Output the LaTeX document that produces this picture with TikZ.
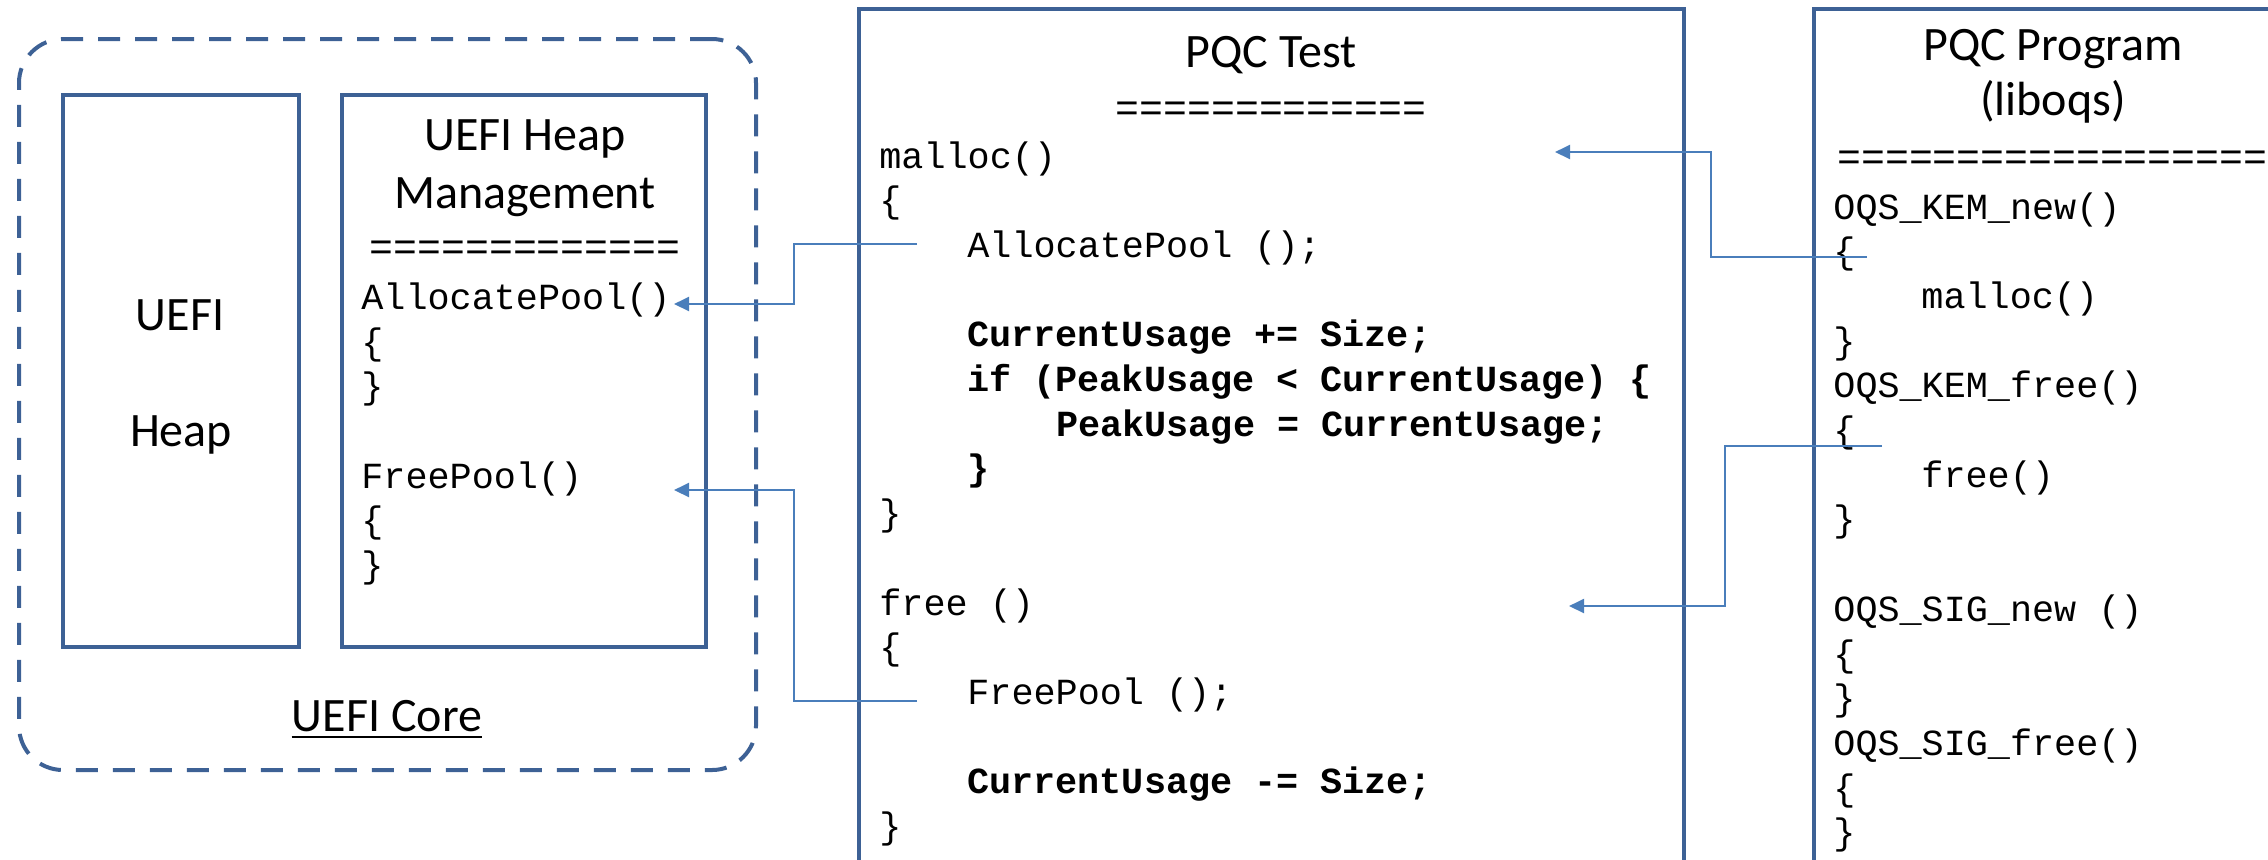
\documentclass[tikz,border=0pt]{standalone}
\usepackage{fontspec}
\setmainfont{Carlito}
\newfontfamily\codefont{Liberation Mono}
\usetikzlibrary{arrows.meta,fit}
\definecolor{boxblue}{HTML}{3D6195}
\definecolor{connblue}{HTML}{4A7EBB}
\begin{document}
\begin{tikzpicture}[x=0.5pt,y=-0.5pt,
  box/.style={draw=boxblue, line width=2pt, inner sep=0pt},
  corebox/.style={draw=boxblue, line width=2pt, inner sep=0pt, dash pattern=on 11pt off 7.5pt, rounded corners=22pt},
  title/.style={font=\fontsize{24}{29}\selectfont, inner sep=0pt, anchor=base},
  code/.style={font=\codefont\fontsize{18.4}{22}\selectfont, inner sep=0pt, anchor=base west},
  codeb/.style={font=\codefont\bfseries\fontsize{18.4}{22}\selectfont, inner sep=0pt, anchor=base west},
  eqline/.style={font=\codefont\fontsize{19.9}{24}\selectfont, inner sep=0pt, anchor=base},
  conn/.style={draw=connblue, line width=1pt, -{Triangle[length=7.5pt,width=7pt]}}
]
\useasboundingbox (0,0) rectangle (2268,859);
\clip (0,0) rectangle (2268,859);

% frames
\coordinate (c1) at (19,39);   \coordinate (c2) at (756,770);
\node[corebox, fit=(c1)(c2)] (core) {};
\coordinate (h1) at (63,95);   \coordinate (h2) at (299,647);
\node[box, fit=(h1)(h2)] (heap) {};
\coordinate (g1) at (342,95);  \coordinate (g2) at (706,647);
\node[box, fit=(g1)(g2)] (mgmt) {};
\coordinate (t1) at (859,9);   \coordinate (t2) at (1684,920);
\node[box, fit=(t1)(t2)] (test) {};
\coordinate (p1) at (1814,9);  \coordinate (p2) at (2320,920);
\node[box, fit=(p1)(p2)] (prog) {};

% UEFI heap
\node[title] (uefi) at (180,330) {UEFI};
\node[title] (heapw) at (181,446) {Heap};

% UEFI core label
\node[title] (ucore) at (387,731) {UEFI Core};
\draw[black, line width=1.2pt] ([yshift=-3pt]ucore.base west) -- ([yshift=-3pt]ucore.base east);

% heap management
\node[title] (hm1) at (525,150) {UEFI Heap};
\node[title] (hm2) at (525,208) {Management};
\node[eqline] (hmeq) at (525,260) {=============};
\node[code] (ma1) at (361,309) {AllocatePool()};
\node[code] (ma2) at (361,354) {\{};
\node[code] (ma3) at (361,398) {\}};
\node[code] (mf1) at (361,488) {FreePool()};
\node[code] (mf2) at (361,532) {\{};
\node[code] (mf3) at (361,577) {\}};

% PQC test
\node[title] (tt) at (1271,67) {PQC Test};
\node[eqline] (teq) at (1271,121) {=============};
\node[code]  (r0)  at (879,168.0) {malloc()};
\node[code]  (r1)  at (879,212.7) {\{};
\node[code]  (r2)  at (967,257.4) {AllocatePool ();};
\node[codeb] (r4)  at (967,346.8) {CurrentUsage += Size;};
\node[codeb] (r5)  at (967,391.5) {if (PeakUsage < CurrentUsage) \{};
\node[codeb] (r6)  at (1056,436.2) {PeakUsage = CurrentUsage;};
\node[codeb] (r7)  at (967,480.9) {\}};
\node[code]  (r8)  at (879,525.6) {\}};
\node[code]  (r10) at (879,615.0) {free ()};
\node[code]  (r11) at (879,659.7) {\{};
\node[code]  (r12) at (967,704.4) {FreePool ();};
\node[codeb] (r14) at (967,793.8) {CurrentUsage -= Size;};
\node[code]  (r15) at (879,838.5) {\}};

% PQC program
\node[title] (pt1) at (2053,60) {PQC Program};
\node[title] (pt2) at (2053,115) {(liboqs)};
\node[eqline, anchor=base west] (peq) at (1837,170) {===================};
\node[code] (q0)  at (1833,219.0) {OQS\_KEM\_new()};
\node[code] (q1)  at (1833,263.7) {\{};
\node[code] (q2)  at (1921,308.4) {malloc()};
\node[code] (q3)  at (1833,353.1) {\}};
\node[code] (q4)  at (1833,397.8) {OQS\_KEM\_free()};
\node[code] (q5)  at (1833,442.5) {\{};
\node[code] (q6)  at (1921,487.2) {free()};
\node[code] (q7)  at (1833,531.9) {\}};
\node[code] (q9)  at (1833,621.3) {OQS\_SIG\_new ()};
\node[code] (q10) at (1833,666.0) {\{};
\node[code] (q11) at (1833,710.7) {\}};
\node[code] (q12) at (1833,755.4) {OQS\_SIG\_free()};
\node[code] (q13) at (1833,800.1) {\{};
\node[code] (q14) at (1833,844.8) {\}};

% connectors
\coordinate (l1s) at (917,244);  \coordinate (l1e) at (674,304);
\coordinate (l2s) at (917,701);  \coordinate (l2e) at (674,490);
\coordinate (k1s) at (1867,257); \coordinate (k1e) at (1555,152);
\coordinate (k2s) at (1882,446); \coordinate (k2e) at (1569,606);
\draw[conn] (l1s) -- ++(-123,0) |- (l1e);
\draw[conn] (l2s) -- ++(-123,0) |- (l2e);
\draw[conn] (k1s) -- ++(-156,0) |- (k1e);
\draw[conn] (k2s) -- ++(-157,0) |- (k2e);
\end{tikzpicture}
\end{document}
